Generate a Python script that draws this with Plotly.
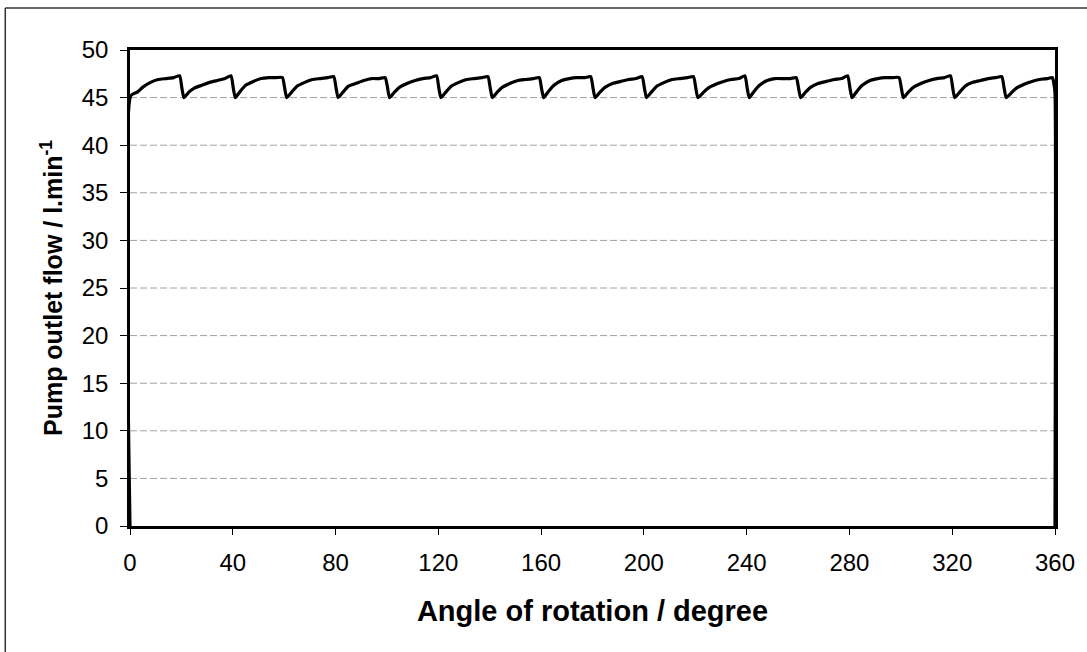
import plotly.graph_objects as go

# Angle of rotation (degree) and pump outlet flow (l/min)
angle = [
    0, 0.3, 3, 5, 8, 11, 14, 17, 19.3, 20.2,
    21, 23, 25, 28, 31, 34, 37, 39.3, 40.2,
    41, 43, 45, 48, 51, 54, 57, 59.3, 60.2,
    61, 63, 65, 68, 71, 74, 77, 79.3, 80.2,
    81, 83, 85, 88, 91, 94, 97, 99.3, 100.2,
    101, 103, 105, 108, 111, 114, 117, 119.3, 120.2,
    121, 123, 125, 128, 131, 134, 137, 139.3, 140.2,
    141, 143, 145, 148, 151, 154, 157, 159.3, 160.2,
    161, 163, 165, 168, 171, 174, 177, 179.3, 180.2,
    181, 183, 185, 188, 191, 194, 197, 199.3, 200.2,
    201, 203, 205, 208, 211, 214, 217, 219.3, 220.2,
    221, 223, 225, 228, 231, 234, 237, 239.3, 240.2,
    241, 243, 245, 248, 251, 254, 257, 259.3, 260.2,
    261, 263, 265, 268, 271, 274, 277, 279.3, 280.2,
    281, 283, 285, 288, 291, 294, 297, 299.3, 300.2,
    301, 303, 305, 308, 311, 314, 317, 319.3, 320.2,
    321, 323, 325, 328, 331, 334, 337, 339.3, 340.2,
    341, 343, 345, 348, 351, 354, 357, 359.0, 359.6, 360, 360,
]
flow = [
    0, 45.2, 45.6, 46.1, 46.6, 46.9, 47.0, 47.1, 47.3, 46.0,
    45.0, 45.6, 46.0, 46.3, 46.6, 46.8, 47.0, 47.3, 46.0,
    45.0, 45.7, 46.3, 46.7, 47.0, 47.1, 47.1, 47.1, 46.0,
    45.0, 45.6, 46.2, 46.6, 46.9, 47.0, 47.1, 47.2, 46.0,
    45.0, 45.6, 46.2, 46.5, 46.8, 47.0, 47.0, 47.1, 46.1,
    45.0, 45.6, 46.1, 46.5, 46.8, 47.0, 47.1, 47.3, 46.0,
    45.0, 45.6, 46.2, 46.6, 46.9, 47.0, 47.1, 47.2, 46.0,
    45.0, 45.6, 46.1, 46.5, 46.8, 46.9, 47.0, 47.1, 45.9,
    45.0, 45.7, 46.3, 46.8, 47.0, 47.1, 47.1, 47.2, 46.0,
    45.0, 45.6, 46.1, 46.5, 46.7, 46.9, 47.0, 47.2, 46.0,
    45.0, 45.6, 46.2, 46.6, 46.9, 47.0, 47.1, 47.2, 46.0,
    45.0, 45.5, 46.0, 46.4, 46.7, 46.9, 47.0, 47.3, 46.0,
    45.0, 45.7, 46.3, 46.8, 47.0, 47.0, 47.0, 47.1, 46.0,
    45.0, 45.6, 46.1, 46.5, 46.7, 46.9, 47.0, 47.3, 46.0,
    45.0, 45.7, 46.3, 46.8, 47.0, 47.1, 47.1, 47.1, 46.0,
    45.0, 45.6, 46.1, 46.5, 46.8, 47.0, 47.1, 47.3, 46.0,
    45.0, 45.6, 46.2, 46.6, 46.8, 47.0, 47.1, 47.2, 46.0,
    45.0, 45.5, 46.0, 46.4, 46.7, 46.9, 47.0, 47.1, 46.4, 45.5, 0,
]

x_ticks = [0, 40, 80, 120, 160, 200, 240, 280, 320, 360]
y_ticks = [0, 5, 10, 15, 20, 25, 30, 35, 40, 45, 50]
grid_levels = [5, 10, 15, 20, 25, 30, 35, 40, 45]

FONT = "Liberation Sans, Arial, sans-serif"

fig = go.Figure()

# dashed grey gridlines
for g in grid_levels:
    fig.add_shape(type="line", xref="x", yref="y", x0=0, x1=360, y0=g, y1=g,
                  line=dict(color="#a0a0a0", width=1, dash="7px,3px"), layer="below")

fig.add_trace(go.Scatter(
    x=angle, y=flow, mode="lines",
    line=dict(color="black", width=3.2, shape="spline", smoothing=0.5),
    hoverinfo="skip", showlegend=False,
))

# outer chart frame (left and top edges visible)
fx = (5 - 130) / 927
fy = (526 - 8) / 476
fig.add_shape(type="line", xref="paper", yref="paper",
              x0=fx, x1=fx, y0=(526 - 660) / 476, y1=fy,
              line=dict(color="#333333", width=1.5))
fig.add_shape(type="line", xref="paper", yref="paper",
              x0=fx, x1=(1095 - 130) / 927, y0=fy, y1=fy,
              line=dict(color="#333333", width=1.5))

fig.update_layout(
    width=1087, height=652,
    margin=dict(l=130, r=30, t=50, b=126),
    paper_bgcolor="white", plot_bgcolor="white",
    font=dict(family=FONT, color="black", size=24),
    xaxis=dict(
        range=[0, 360], tickvals=x_ticks, ticktext=[str(v) for v in x_ticks],
        showgrid=False, zeroline=False,
        showline=True, linecolor="black", linewidth=2.5, mirror=True,
        ticks="outside", ticklen=6, tickwidth=1, tickcolor="black",
        ticklabelstandoff=7,
        tickfont=dict(size=24, family=FONT),
        title=dict(text="<b>Angle of rotation / degree</b>", font=dict(size=29, family=FONT), standoff=27),
    ),
    yaxis=dict(
        range=[0, 50], tickvals=y_ticks, ticktext=[str(v) for v in y_ticks],
        showgrid=False, zeroline=False,
        showline=True, linecolor="black", linewidth=2.5, mirror=True,
        ticks="outside", ticklen=7, tickwidth=1, tickcolor="black",
        ticklabelstandoff=7,
        tickfont=dict(size=24, family=FONT),
        title=dict(text="<b>Pump outlet flow / l.min<sup>-1</sup></b>", font=dict(size=25, family=FONT), standoff=12),
    ),
)

fig.write_html("out.html", config={"displayModeBar": False},
               post_script="document.body.style.margin='0';document.body.style.overflow='hidden';")
